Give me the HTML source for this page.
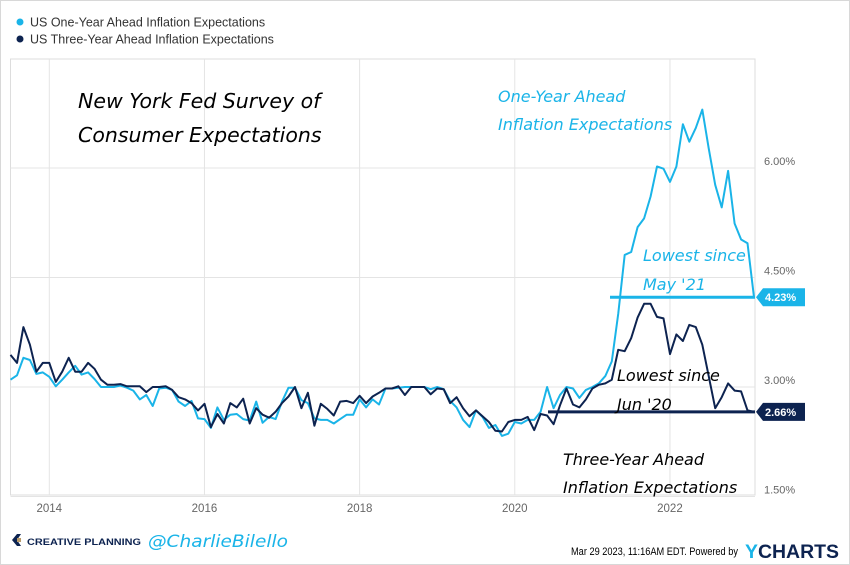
<!DOCTYPE html>
<html><head><meta charset="utf-8">
<style>
html,body{margin:0;padding:0;background:#fff;}
body{width:850px;height:565px;overflow:hidden;font-family:"Liberation Sans",sans-serif;}
</style></head>
<body>
<svg id="chart" width="850" height="565" xmlns="http://www.w3.org/2000/svg" style="position:absolute;left:0;top:0">
<rect x="0.5" y="0.5" width="849" height="564" fill="#fff" stroke="#d8d8d8"/>
<g>
 <circle cx="20" cy="22" r="3.5" fill="#1ab4e8"/>
 <text x="30" y="26.5" font-size="12.5" fill="#333">US One-Year Ahead Inflation Expectations</text>
 <circle cx="20" cy="39" r="3.5" fill="#0d2350"/>
 <text x="30" y="43.5" font-size="12.5" fill="#333">US Three-Year Ahead Inflation Expectations</text>
</g>
<g id="grid"></g>
<g id="series"></g>
<g font-family="'DejaVu Sans',cursive" font-style="italic">
 <text x="78" y="108" font-size="20.5" fill="#000">New York Fed Survey of</text>
 <text x="78" y="142" font-size="20.5" fill="#000">Consumer Expectations</text>
 <text x="498" y="102" font-size="16" fill="#1ab4e8">One-Year Ahead</text>
 <text x="498" y="130" font-size="16" fill="#1ab4e8">Inflation Expectations</text>
 <text x="643" y="261" font-size="16" fill="#1ab4e8">Lowest since</text>
 <text x="643" y="290" font-size="16" fill="#1ab4e8">May '21</text>
 <text x="617" y="381" font-size="16" fill="#000">Lowest since</text>
 <text x="617" y="410" font-size="16" fill="#000">Jun '20</text>
 <text x="563" y="465" font-size="16" fill="#000">Three-Year Ahead</text>
 <text x="563" y="493" font-size="16" fill="#000">Inflation Expectations</text>
</g>
<g>
 <path d="M17 534 L12 540 L17 546 L21 546 L17 540 L21 534 Z" fill="#0d2350"/>
 <rect x="17" y="538" width="4" height="4" fill="#b89a6a"/>
 <text x="27" y="545" font-size="9" font-weight="bold" fill="#0d2350" textLength="114" lengthAdjust="spacingAndGlyphs">CREATIVE PLANNING</text>
 <text x="148" y="547" font-size="17" fill="#1ab4e8" font-family="'DejaVu Sans',cursive" font-style="italic" textLength="140" lengthAdjust="spacingAndGlyphs">@CharlieBilello</text>
 <text x="571" y="555" font-size="11" fill="#000" textLength="167" lengthAdjust="spacingAndGlyphs">Mar 29 2023, 11:16AM EDT.  Powered by</text>
 <text x="745" y="558" font-size="19" font-weight="bold" fill="#0d2350" textLength="94" lengthAdjust="spacingAndGlyphs"><tspan fill="#1ab4e8">Y</tspan>CHARTS</text>
</g>
</svg>
<script>
const oneYear=[3.1,3.16,3.40,3.37,3.18,3.2,3.14,3.01,3.1,3.2,3.29,3.17,3.2,3.11,3.0,3.0,3.0,3.02,2.99,2.95,2.83,2.89,2.74,2.98,2.99,2.96,2.8,2.74,2.81,2.57,2.56,2.44,2.72,2.55,2.62,2.63,2.56,2.54,2.8,2.51,2.59,2.56,2.8,2.99,2.99,2.82,2.78,2.57,2.55,2.55,2.5,2.56,2.62,2.62,2.83,2.72,2.83,2.76,2.98,2.98,2.99,3.0,3.0,3.0,3.0,2.97,3.0,2.97,2.81,2.72,2.55,2.45,2.68,2.59,2.44,2.48,2.33,2.36,2.52,2.5,2.55,2.55,2.66,3.0,2.71,2.89,3.0,2.98,2.85,2.96,3.0,3.05,3.15,3.35,4.0,4.81,4.85,5.19,5.31,5.61,6.02,5.99,5.81,6.02,6.6,6.36,6.55,6.8,6.27,5.77,5.46,5.96,5.24,5.02,4.97,4.23];
const threeYear=[3.44,3.33,3.82,3.58,3.21,3.33,3.33,3.07,3.21,3.40,3.21,3.21,3.33,3.25,3.1,3.03,3.03,3.04,3.01,3.01,3.01,2.93,3.0,3.0,3.01,2.96,2.86,2.83,2.78,2.68,2.77,2.45,2.63,2.50,2.78,2.72,2.84,2.5,2.71,2.62,2.58,2.66,2.78,2.87,3.0,2.71,2.92,2.47,2.77,2.70,2.61,2.80,2.81,2.78,2.88,2.78,2.87,2.92,2.98,2.98,3.01,2.89,3.0,3.0,3.0,2.9,2.98,2.97,2.78,2.86,2.71,2.6,2.68,2.6,2.52,2.4,2.39,2.52,2.55,2.55,2.59,2.41,2.63,2.61,2.49,2.75,2.98,2.76,2.72,2.83,2.98,3.03,3.05,3.1,3.51,3.49,3.67,3.95,4.14,4.14,3.96,3.94,3.45,3.72,3.63,3.85,3.82,3.58,3.15,2.71,2.86,3.05,2.95,2.94,2.68,2.66];
const yTicks=[1.5,3.0,4.5,6.0];
const yTickLabels=["1.50%","3.00%","4.50%","6.00%"];
const xTickMonths=[6,30,54,78,102];
const xTickLabels=["2014","2016","2018","2020","2022"];
const lastOne=4.23, lastThree=2.66;
const L=10.5,R=755,T=59,B=495;
const N=oneYear.length;
function xs(i){return L+i*(754-L)/(N-1);}
function ys(v){return 387-(v-3)*73;}
const NS="http://www.w3.org/2000/svg";
const grid=document.getElementById('grid'),series=document.getElementById('series'),svg=document.getElementById('chart');
function mk(tag,attrs,parent){const e=document.createElementNS(NS,tag);for(const k in attrs)e.setAttribute(k,attrs[k]);parent.appendChild(e);return e;}
let f=mk('rect',{x:L,y:T,width:R-L,height:B-T,fill:'none',stroke:'#ddd'},grid);


yTicks.forEach((v,k)=>{
 let g=mk('line',{x1:L,x2:R,y1:ys(v),y2:ys(v),stroke:'#e4e4e4'},grid);
 
 
 let t=mk('text',{x:764,y:ys(v)-3,'font-size':11,fill:'#666'},grid);
 t.textContent=yTickLabels[k];
 
 
});
xTickMonths.forEach((m,k)=>{
 let g=mk('line',{x1:xs(m),x2:xs(m),y1:T,y2:B,stroke:'#e4e4e4'},grid);
 
 
 let t=mk('text',{x:xs(m),y:512,'font-size':11.5,fill:'#666','text-anchor':'middle'},grid);
 t.textContent=xTickLabels[k];
 
 
});
function line(arr,color,name){
 const d=arr.map((v,i)=>(i?'L':'M')+xs(i).toFixed(1)+' '+ys(v).toFixed(1)).join(' ');
 const p=mk('path',{d:d,fill:'none',stroke:color,'stroke-width':2,'stroke-linejoin':'round'},series);
 
 
}
line(oneYear,'#1ab4e8','one-year-line');
line(threeYear,'#0d2350','three-year-line');
let h1=mk('line',{x1:610,x2:R,y1:ys(lastOne),y2:ys(lastOne),stroke:'#1ab4e8','stroke-width':3},series);


let h2=mk('line',{x1:548,x2:R,y1:ys(lastThree),y2:ys(lastThree),stroke:'#0d2350','stroke-width':3},series);


function badge(v,color,name){
 const y=ys(v);
 const p=mk('path',{d:`M756 ${y} L763 ${y-9} L805 ${y-9} L805 ${y+9} L763 ${y+9} Z`,fill:color},svg);
 
 
 const t=mk('text',{x:765,y:y+4,'font-size':11,'font-weight':'bold',fill:'#fff'},svg);
 t.textContent=v.toFixed(2)+'%';
 
 
}
badge(lastOne,'#1ab4e8','one-year-last');
badge(lastThree,'#0d2350','three-year-last');
</script>
</body></html>
